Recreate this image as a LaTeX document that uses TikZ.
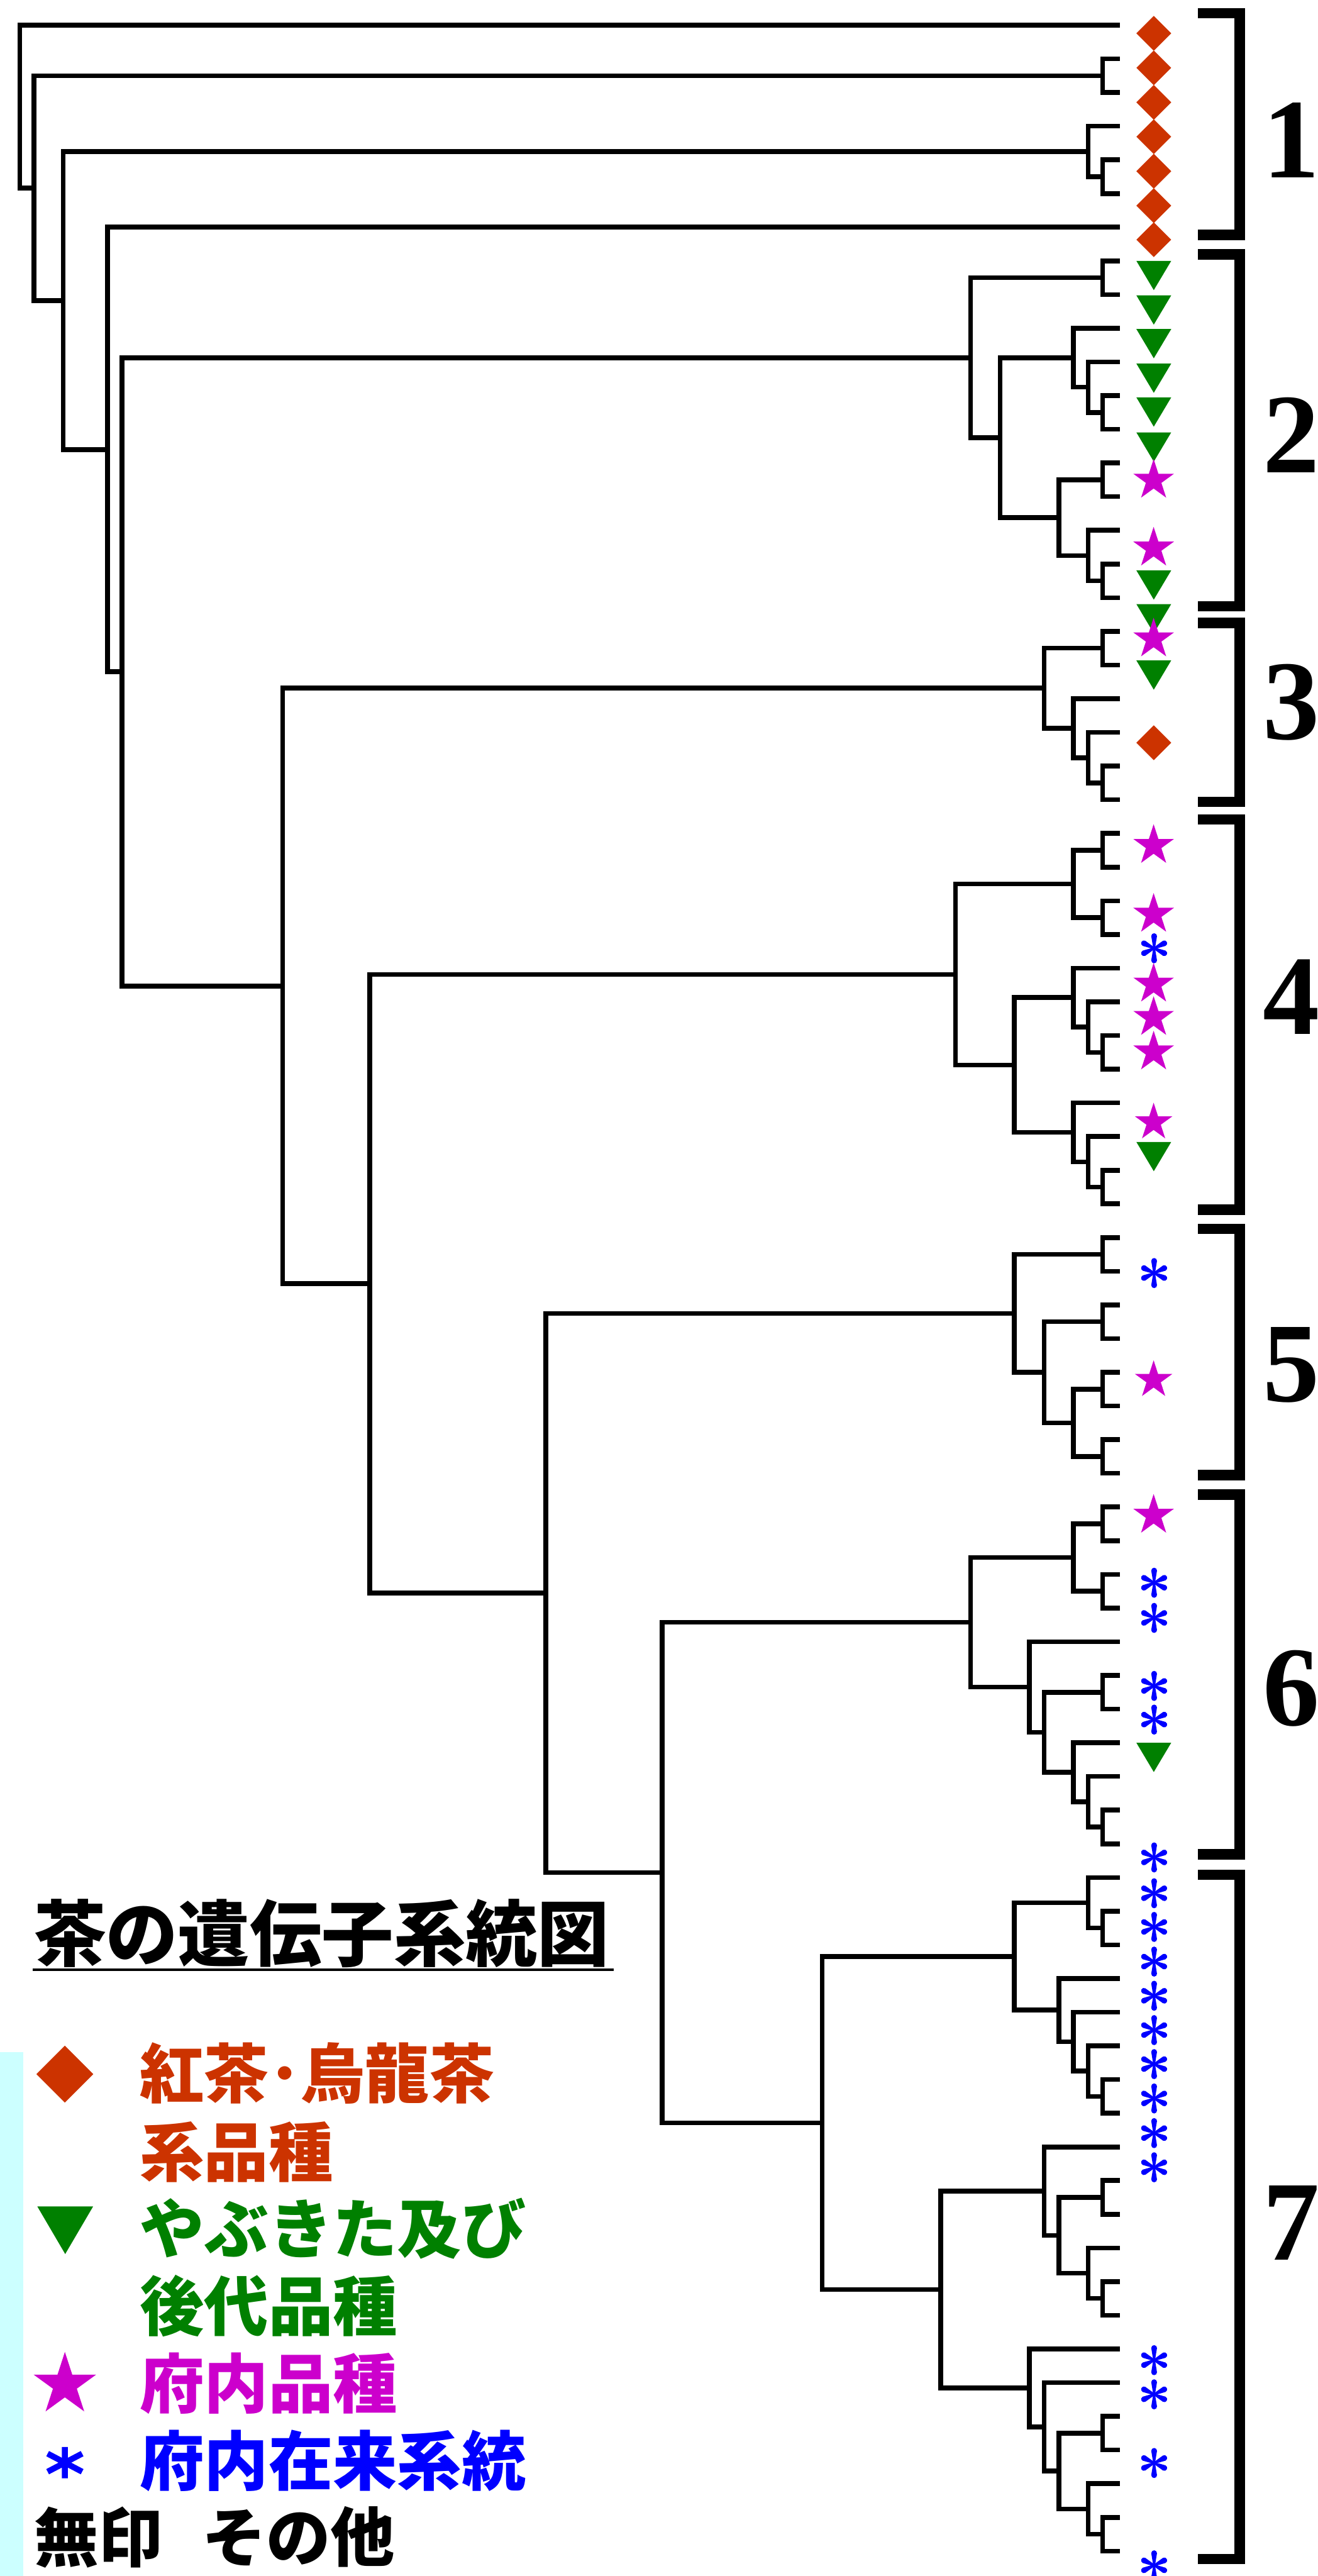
\documentclass[tikz,border=0pt]{standalone}
\usepackage{fontspec}
\newfontfamily\jp{Noto Sans CJK JP}
\newfontfamily\dig{Liberation Serif}
\usetikzlibrary{calc}
\definecolor{cdia}{RGB}{204,51,0}
\definecolor{cgrn}{RGB}{0,128,0}
\definecolor{cmag}{RGB}{204,0,204}
\definecolor{cblu}{RGB}{0,0,255}
\definecolor{cbg}{RGB}{204,255,255}
\tikzset{
  tree/.style={line width=1.45pt, line join=miter, line cap=butt},
  brk/.style={line width=3.15pt, line join=miter},
  dg/.style={inner sep=0pt, font=\dig\bfseries\fontsize{34.5}{34.5}\selectfont},
  lab/.style={inner sep=0pt, anchor=west, font=\jp\bfseries\fontsize{19.6}{22}\selectfont},
}
% join node: name, x, child1, child2
\newcommand\jn[4]{%
  \path let \p1=(#3), \p2=(#4) in coordinate (#1) at ({#2*0.5pt},{0.5*(\y1)+0.5*(\y2)});
  \draw[tree] (#1) |- (#3) (#1) |- (#4);}
\newcommand\mdia[3]{\fill[cdia] (#1,{#2-#3}) -- ({#1+#3},#2) -- (#1,{#2+#3}) -- ({#1-#3},#2) -- cycle;}
\newcommand\mtri[4]{\fill[cgrn] ({#1-#3},#2) -- ({#1+#3},#2) -- (#1,{#2+#4}) -- cycle;}
\newcommand\mstar[3]{\fill[cmag, shift={(#1,#2)}] (-90:#3) -- (-54:{0.382*#3}) -- (-18:#3) -- (18:{0.382*#3}) -- (54:#3) -- (90:{0.382*#3}) -- (126:#3) -- (162:{0.382*#3}) -- (198:#3) -- (234:{0.382*#3}) -- cycle;}
\newcommand\mast[2]{\begin{scope}[shift={(#1,#2)}]
  \foreach \a/\l in {90/7.4,270/7.4,26/6.9,-26/6.9,154/6.9,206/6.9}{
    \fill[cblu, rotate=\a] (0,-0.55) -- (\l,-1.75) arc[start angle=-90,end angle=90,radius=1.75] -- (0,0.55) -- cycle;}
  \end{scope}}
\newcommand\brk[3]{\coordinate (#1t) at (729.4,#2); \coordinate (#1b) at (729.4,#3);
  \draw[brk] (#1t) -- ++(25.3,0) |- (#1b);}
\begin{document}
\begin{tikzpicture}[x=0.5pt,y=-0.5pt]
\useasboundingbox (0,0) rectangle (802,1568);
\fill[cbg] (0,1249) rectangle (14,1568);
% leaves
\foreach \i in {1,...,76} \coordinate (l\i) at (681.8,{15.3+20.5*(\i-1)});
% cluster 1
\jn{a23}{671.2}{l2}{l3}
\jn{a56}{671.2}{l5}{l6}
\jn{a456}{662.4}{l4}{a56}
% cluster 2
\jn{b89}{671.2}{l8}{l9}
\jn{b1213}{671.2}{l12}{l13}
\jn{b11}{662.4}{l11}{b1213}
\jn{b10}{653.4}{l10}{b11}
\jn{b1415}{671.2}{l14}{l15}
\jn{b1718}{671.2}{l17}{l18}
\jn{b16}{662.4}{l16}{b1718}
\jn{b14}{644.7}{b1415}{b16}
\jn{b10b}{608.8}{b10}{b14}
\jn{c2}{590.9}{b89}{b10b}
% cluster 3
\jn{d1920}{671.2}{l19}{l20}
\jn{d2324}{671.2}{l23}{l24}
\jn{d22}{662.4}{l22}{d2324}
\jn{d21}{653.4}{l21}{d22}
\jn{c3}{635.6}{d1920}{d21}
% cluster 4
\jn{e2526}{671.2}{l25}{l26}
\jn{e2728}{671.2}{l27}{l28}
\jn{e25}{653.4}{e2526}{e2728}
\jn{e3132}{671.2}{l31}{l32}
\jn{e30}{662.4}{l30}{e3132}
\jn{e29}{653.4}{l29}{e30}
\jn{e3536}{671.2}{l35}{l36}
\jn{e34}{662.4}{l34}{e3536}
\jn{e33}{653.4}{l33}{e34}
\jn{e29b}{617.5}{e29}{e33}
\jn{c4}{581.6}{e25}{e29b}
% cluster 5
\jn{f3738}{671.2}{l37}{l38}
\jn{f3940}{671.2}{l39}{l40}
\jn{f4142}{671.2}{l41}{l42}
\jn{f4344}{671.2}{l43}{l44}
\jn{f41}{653.4}{f4142}{f4344}
\jn{f39}{635.6}{f3940}{f41}
\jn{c5}{617.5}{f3738}{f39}
% cluster 6
\jn{g4546}{671.2}{l45}{l46}
\jn{g4748}{671.2}{l47}{l48}
\jn{g45}{653.4}{g4546}{g4748}
\jn{g5051}{671.2}{l50}{l51}
\jn{g5455}{671.2}{l54}{l55}
\jn{g53}{662.4}{l53}{g5455}
\jn{g52}{653.4}{l52}{g53}
\jn{g50}{635.6}{g5051}{g52}
\jn{g49}{626.6}{l49}{g50}
\jn{c6}{590.9}{g45}{g49}
% cluster 7
\jn{h5758}{671.2}{l57}{l58}
\jn{h56}{662.4}{l56}{h5758}
\jn{h6263}{671.2}{l62}{l63}
\jn{h61}{662.4}{l61}{h6263}
\jn{h60}{653.4}{l60}{h61}
\jn{h59}{644.7}{l59}{h60}
\jn{h56b}{617.5}{h56}{h59}
\jn{h6566}{671.2}{l65}{l66}
\jn{h6869}{671.2}{l68}{l69}
\jn{h67}{662.4}{l67}{h6869}
\jn{h65}{644.7}{h6566}{h67}
\jn{h64}{635.6}{l64}{h65}
\jn{h7273}{671.2}{l72}{l73}
\jn{h7576}{671.2}{l75}{l76}
\jn{h74}{662.4}{l74}{h7576}
\jn{h72}{644.7}{h7273}{h74}
\jn{h71}{635.6}{l71}{h72}
\jn{h70}{626.6}{l70}{h71}
\jn{h64b}{572.7}{h64}{h70}
\jn{c7}{500.6}{h56b}{h64b}
% upper levels
\jn{n9}{403}{c6}{c7}
\jn{n8}{332.2}{c5}{n9}
\jn{n7}{225.1}{c4}{n8}
\jn{n6}{172.1}{c3}{n7}
\jn{n5}{74.2}{c2}{n6}
\jn{n4}{65.4}{l7}{n5}
\jn{n3}{38.5}{a456}{n4}
\jn{n2}{20.7}{a23}{n3}
\jn{n1}{12.1}{l1}{n2}
% markers
\foreach \c in {20.3,41.3,62.3,83.2,104.2,125.2,145.9,452.1} {\mdia{702.4}{\c}{10.6}}
\foreach \t in {158.8,179.8,200.3,221.3,241.9,263.2,347.2,367.7,402,695.1,1060.8} {\mtri{702.4}{\t}{10.6}{17.8}}
\foreach \c in {292.4,333.7,389,514.7,556.6,599.1,619.4,640.4,922.4} {\mstar{702.3}{\c}{13}}
\foreach \c in {683.2,840} {\mstar{702.3}{\c}{12}}
\foreach \c in {577.2,774.9,963.4,984.8,1026.2,1046.7,1130.6,1152.4,1172.9,1194,1214.8,1235.7,1256.4,1277.3,1298.4,1319.2,1436.6,1457.4,1499.2,1561.5} {\mast{702.6}{\c}}
% group brackets
\brk{k1}{8.0}{142.9}
\brk{k2}{154.8}{369}
\brk{k3}{379.2}{488.1}
\brk{k4}{498.8}{736.3}
\brk{k5}{748.1}{897.9}
\brk{k6}{909.8}{1128.7}
\brk{k7}{1141.2}{1557.7}
\node[dg] (g1) at (786,85.4) {1};
\node[dg] (g2) at (786,264.7) {2};
\node[dg] (g3) at (786,427.6) {3};
\node[dg] (g4) at (786,607) {4};
\node[dg] (g5) at (786,831) {5};
\node[dg] (g6) at (786,1027.9) {6};
\node[dg] (g7) at (786,1352.9) {7};
% title
\node[inner sep=0pt, anchor=west, font=\jp\bfseries\fontsize{21.9}{24}\selectfont] (title) at (20.3,1177) {茶の遺伝子系統図};
\draw[line width=0.7pt] (20,1199) -- (373.6,1199);
% legend
\mdia{39.5}{1262.5}{17.3}
\node[lab, text=cdia] (lg1a) at (84.7,1262) {紅茶･烏龍茶};
\node[lab, text=cdia] (lg1b) at (84.7,1310) {系品種};
\mtri{39.7}{1343}{17}{29}
\node[lab, text=cgrn] (lg2a) at (84.7,1356.5) {やぶきた及び};
\node[lab, text=cgrn] (lg2b) at (84.7,1403.5) {後代品種};
\mstar{39.5}{1451.6}{20}
\node[lab, text=cmag] (lg3) at (84.7,1450.6) {府内品種};
\draw[cblu, line width=1.8pt] (39.5,1489.5) -- (39.5,1508.5) (29,1493.5) -- (50,1504.5) (29,1504.5) -- (50,1493.5);
\node[lab, text=cblu] (lg4) at (84.7,1497.7) {府内在来系統};
\node[lab] (lg5a) at (20.5,1544.3) {無印};
\node[lab] (lg5b) at (122.5,1544.3) {その他};
\end{tikzpicture}
\end{document}
